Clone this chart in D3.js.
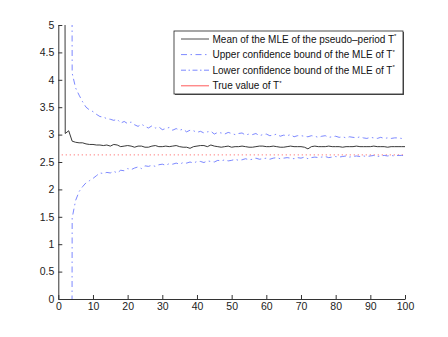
<!DOCTYPE html>
<html>
<head>
<meta charset="utf-8">
<script src="https://cdn.jsdelivr.net/npm/d3@7"></script>
<style>
body { margin: 0; background: #fff; }
text { font-family: "Liberation Sans", Arial, sans-serif; }
</style>
</head>
<body>
<script>
// sample sizes 1..100
var sampleSizes = d3.range(1, 101);

// mean of the MLE (first point is far above the axes)
var meanMLE = [40, 3.02, 3.07, 2.88, 2.86, 2.85, 2.85, 2.83, 2.82, 2.82,
  2.81, 2.81, 2.80, 2.81, 2.79, 2.82, 2.81, 2.78, 2.79, 2.80,
  2.79, 2.77, 2.79, 2.79, 2.77, 2.77, 2.79, 2.80, 2.78, 2.78,
  2.79, 2.78, 2.79, 2.80, 2.78, 2.77, 2.77, 2.75, 2.78, 2.79,
  2.80, 2.80, 2.78, 2.81, 2.79, 2.78, 2.77, 2.78, 2.79, 2.77,
  2.78, 2.78, 2.79, 2.78, 2.77, 2.77, 2.78, 2.79, 2.79, 2.78,
  2.78, 2.79, 2.78, 2.77, 2.77, 2.78, 2.79, 2.78, 2.78, 2.78,
  2.77, 2.74, 2.78, 2.79, 2.78, 2.78, 2.78, 2.79, 2.78, 2.78,
  2.78, 2.77, 2.78, 2.78, 2.78, 2.79, 2.78, 2.78, 2.78, 2.78,
  2.79, 2.78, 2.78, 2.78, 2.77, 2.78, 2.78, 2.78, 2.78, 2.78];

var upperBound = [null, null, 40, 4.12, 3.85, 3.72, 3.60, 3.50, 3.45, 3.42,
  3.37, 3.33, 3.32, 3.29, 3.28, 3.26, 3.28, 3.21, 3.24, 3.20,
  3.23, 3.18, 3.15, 3.19, 3.15, 3.12, 3.16, 3.12, 3.14, 3.09,
  3.11, 3.13, 3.08, 3.11, 3.08, 3.10, 3.05, 3.08, 3.07, 3.04,
  3.06, 3.03, 3.05, 3.06, 3.01, 3.04, 3.03, 3.01, 3.04, 3.02,
  3.00, 3.02, 3.03, 2.99, 3.01, 3.00, 3.02, 2.98, 3.00, 3.01,
  2.98, 2.99, 3.01, 2.97, 2.99, 2.98, 3.00, 2.96, 2.98, 2.98,
  2.97, 2.96, 2.98, 2.97, 2.95, 2.97, 2.98, 2.95, 2.96, 2.97,
  2.95, 2.96, 2.94, 2.96, 2.95, 2.94, 2.96, 2.94, 2.93, 2.95,
  2.94, 2.93, 2.95, 2.93, 2.94, 2.93, 2.94, 2.94, 2.93, 2.93];

var lowerBound = [null, null, -40, 1.48, 1.80, 1.96, 2.05, 2.12, 2.16, 2.20,
  2.25, 2.30, 2.29, 2.31, 2.30, 2.33, 2.30, 2.35, 2.34, 2.38,
  2.36, 2.39, 2.41, 2.38, 2.43, 2.42, 2.44, 2.42, 2.45, 2.46,
  2.44, 2.47, 2.46, 2.48, 2.46, 2.49, 2.48, 2.50, 2.48, 2.51,
  2.51, 2.49, 2.52, 2.51, 2.50, 2.53, 2.52, 2.54, 2.52, 2.53,
  2.55, 2.53, 2.54, 2.56, 2.54, 2.55, 2.57, 2.55, 2.56, 2.57,
  2.55, 2.57, 2.58, 2.56, 2.57, 2.58, 2.57, 2.56, 2.58, 2.57,
  2.59, 2.56, 2.58, 2.59, 2.58, 2.59, 2.60, 2.58, 2.59, 2.60,
  2.59, 2.60, 2.61, 2.59, 2.60, 2.61, 2.60, 2.61, 2.60, 2.61,
  2.62, 2.60, 2.61, 2.62, 2.61, 2.62, 2.61, 2.62, 2.62, 2.62];

var trueValue = 2.63;

var xTicks = d3.range(0, 101, 10);
var yTicks = d3.range(0, 5.01, 0.5);

var legendLabels = [
  "Mean of the MLE of the pseudo\u2013period T",
  "Upper confidence bound of the MLE of T",
  "Lower confidence bound of the MLE of T",
  "True value of T"
];

var width = 448, height = 337;
var plotLeft = 58.3, plotRight = 405, plotTop = 25, plotBottom = 299;
var blue = "#5a6aff";

var svg = d3.select("body").append("svg")
  .attr("width", width)
  .attr("height", height);

var x = d3.scaleLinear().domain([0, 100]).range([plotLeft, plotRight]);
var y = d3.scaleLinear().domain([0, 5]).range([plotBottom, plotTop]);

svg.append("clipPath").attr("id", "plotclip")
  .append("rect")
  .attr("x", plotLeft).attr("y", plotTop)
  .attr("width", plotRight - plotLeft).attr("height", plotBottom - plotTop);

var plot = svg.append("g").attr("clip-path", "url(#plotclip)");

function lineFor(values) {
  return d3.line()
    .defined(function(d, i) { return values[i] != null; })
    .x(function(d) { return x(d); })
    .y(function(d, i) { return y(values[i]); })(sampleSizes);
}

// true value (dotted red)
plot.append("path")
  .attr("d", d3.line()([[x(1), y(trueValue)], [x(100), y(trueValue)]]))
  .attr("fill", "none")
  .attr("stroke", "#ff3030")
  .attr("stroke-width", 0.8)
  .attr("stroke-dasharray", "1,3");

plot.append("path")
  .attr("d", lineFor(upperBound))
  .attr("fill", "none")
  .attr("stroke", blue)
  .attr("stroke-width", 0.8)
  .attr("stroke-dasharray", "6,3.5,1.5,3.5");

plot.append("path")
  .attr("d", lineFor(lowerBound))
  .attr("fill", "none")
  .attr("stroke", blue)
  .attr("stroke-width", 0.8)
  .attr("stroke-dasharray", "6,3.5,1.5,3.5");

plot.append("path")
  .attr("d", lineFor(meanMLE))
  .attr("fill", "none")
  .attr("stroke", "#222")
  .attr("stroke-width", 0.9);

// axes, MATLAB style ticks pointing inward
var xAxis = svg.append("g")
  .attr("transform", "translate(0," + plotBottom + ")")
  .call(d3.axisBottom(x).tickValues(xTicks).tickFormat(d3.format("d"))
    .tickSizeInner(-4).tickSizeOuter(0).tickPadding(4));

var yAxis = svg.append("g")
  .attr("transform", "translate(" + plotLeft + ",0)")
  .call(d3.axisLeft(y).tickValues(yTicks).tickFormat(function(d) { return String(+d.toFixed(1)); })
    .tickSizeInner(-4).tickSizeOuter(0).tickPadding(4));

[xAxis, yAxis].forEach(function(a) {
  a.select(".domain").attr("stroke", "#333");
  a.selectAll(".tick line").attr("stroke", "#333");
  a.selectAll(".tick text").attr("fill", "#222").style("font-size", "10.5px")
    .style("font-family", "Liberation Sans, Arial, sans-serif");
});

// legend
var lg = svg.append("g");
var lx = 174, ly = 31, lw = 229, lh = 63;
lg.append("rect").attr("x", lx + 1).attr("y", ly + 1).attr("width", lw).attr("height", lh)
  .attr("fill", "#555");
lg.append("rect").attr("x", lx).attr("y", ly).attr("width", lw).attr("height", lh)
  .attr("fill", "#fff").attr("stroke", "#222").attr("stroke-width", 0.8);

var legendStyles = [
  {stroke: "#222", dash: null},
  {stroke: blue, dash: "6,3.5,1.5,3.5"},
  {stroke: blue, dash: "5,2.5,1.5,2.5"},
  {stroke: "#ff3030", dash: null}
];

legendLabels.forEach(function(label, i) {
  var yy = 39 + i * 15.6;
  lg.append("line")
    .attr("x1", 181).attr("x2", 209)
    .attr("y1", yy).attr("y2", yy)
    .attr("stroke", legendStyles[i].stroke)
    .attr("stroke-width", 0.8)
    .attr("stroke-dasharray", legendStyles[i].dash);
  var t = lg.append("text")
    .attr("x", 212.5).attr("y", yy + 3.5)
    .style("font-size", "10px")
    .attr("fill", "#111");
  t.append("tspan").text(label);
  t.append("tspan").attr("dy", -4.5).style("font-size", "6px").text("*");
});
</script>
</body>
</html>
